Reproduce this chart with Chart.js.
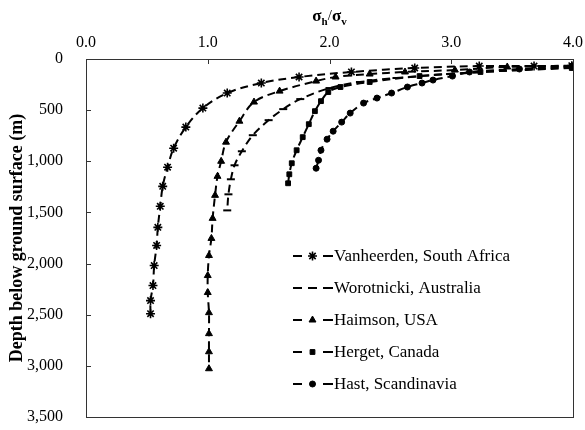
<!DOCTYPE html>
<html><head><meta charset="utf-8">
<script src="https://cdn.jsdelivr.net/npm/chart.js@4/dist/chart.umd.min.js"></script>
<style>html,body{margin:0;padding:0;background:#fff}#wrap{width:585px;height:430px}</style>
</head><body><div id="wrap"><canvas id="c" width="585" height="430"></canvas></div>
<script>
// ---- data (σh/σv ratio vs depth in m) ----
const seriesNames = ["Vanheerden, South Africa", "Worotnicki, Australia", "Haimson, USA", "Herget, Canada", "Hast, Scandinavia"];
const xTickValues = [0, 1, 2, 3, 4];
const yTickValues = [0, 500, 1000, 1500, 2000, 2500, 3000, 3500];

const vanheerdenRatio = [3.99, 3.68, 3.23, 2.70, 2.18, 1.75, 1.44, 1.16, 0.96, 0.82, 0.72, 0.67, 0.63, 0.61, 0.59, 0.58, 0.56, 0.55, 0.53, 0.53];
const vanheerdenDepth = [65, 69, 69, 88, 127, 176, 235, 333, 480, 666, 872, 1058, 1245, 1440, 1646, 1823, 2019, 2215, 2362, 2490];

const worotnickiRatio = [3.99, 2.99, 2.55, 2.25, 2.00, 1.76, 1.62, 1.50, 1.37, 1.28, 1.22, 1.19, 1.17, 1.16];
const worotnickiDepth = [78, 147, 186, 225, 284, 392, 490, 598, 745, 902, 1039, 1176, 1323, 1480];

const haimsonRatio = [3.99, 3.46, 3.03, 2.62, 2.33, 2.05, 1.89, 1.59, 1.38, 1.26, 1.15, 1.11, 1.08, 1.06, 1.04, 1.03, 1.01, 1.00, 1.00, 1.01, 1.01, 1.01, 1.01];
const haimsonDepth = [69, 78, 108, 127, 147, 176, 216, 314, 421, 608, 813, 1000, 1147, 1333, 1558, 1754, 1921, 2117, 2283, 2480, 2685, 2862, 3028];

const hergetRatio = [3.99, 3.24, 2.74, 2.33, 2.09, 1.99, 1.93, 1.88, 1.83, 1.78, 1.73, 1.69, 1.67, 1.66];
const hergetDepth = [88, 127, 167, 225, 274, 323, 412, 510, 637, 764, 892, 1019, 1127, 1215];

const hastRatio = [3.99, 3.56, 3.15, 3.01, 2.85, 2.76, 2.64, 2.51, 2.39, 2.28, 2.17, 2.10, 2.03, 1.98, 1.93, 1.91, 1.89];
const hastDepth = [69, 98, 127, 167, 206, 235, 274, 333, 382, 431, 529, 617, 706, 784, 892, 990, 1068];

const pairs = (xs, ys) => xs.map((v, i) => ({ x: v, y: ys[i] }));

const SERIF = '"Liberation Serif", "Times New Roman", serif';
const DASH = [8, 5];

const styles = [
  { pointStyle: 'star', radius: 4.5, borderWidth: 1.6 },
  { pointStyle: 'line', radius: 4, borderWidth: 2 },
  { pointStyle: 'triangle', radius: 4, borderWidth: 1 },
  { pointStyle: 'rect', radius: 3.4, borderWidth: 1 },
  { pointStyle: 'circle', radius: 3, borderWidth: 1 }
];
const dataSets = [
  pairs(vanheerdenRatio, vanheerdenDepth),
  pairs(worotnickiRatio, worotnickiDepth),
  pairs(haimsonRatio, haimsonDepth),
  pairs(hergetRatio, hergetDepth),
  pairs(hastRatio, hastDepth)
];

const datasets = dataSets.map((d, i) => ({
  label: seriesNames[i],
  data: d,
  showLine: true,
  borderColor: '#000',
  backgroundColor: '#000',
  borderWidth: 2,
  borderDash: DASH,
  tension: 0.35,
  pointStyle: styles[i].pointStyle,
  pointRadius: styles[i].radius,
  pointBorderWidth: styles[i].borderWidth,
  pointBackgroundColor: '#000',
  pointBorderColor: '#000'
}));

const zeroPad = s => { s.paddingLeft = 0; s.paddingRight = 0; s.paddingTop = 0; s.paddingBottom = 0; };

const extras = {
  id: 'extras',
  afterDraw(chart) {
    const ctx = chart.ctx;
    const a = chart.chartArea;
    const xs = chart.scales.x, ys = chart.scales.y;
    ctx.save();
    ctx.setLineDash([]);
    // plot frame
    ctx.strokeStyle = '#333';
    ctx.lineWidth = 1;
    ctx.strokeRect(Math.round(a.left) + 0.5, Math.round(a.top) + 0.5, Math.round(a.right - a.left), Math.round(a.bottom - a.top));
    // inward tick marks
    ctx.beginPath();
    xTickValues.forEach(v => {
      const px = Math.round(xs.getPixelForValue(v)) + 0.5;
      ctx.moveTo(px, a.top); ctx.lineTo(px, a.top + 5);
    });
    yTickValues.forEach(v => {
      const py = Math.round(ys.getPixelForValue(v)) + 0.5;
      ctx.moveTo(a.left, py); ctx.lineTo(a.left + 5, py);
    });
    ctx.stroke();

    // title σh/σv with subscripts
    const big = 'bold 17px ' + SERIF, small = 'bold 11px ' + SERIF;
    const parts = [['σ', big, 0], ['h', small, 4], ['/', '15px ' + SERIF, -1], ['σ', big, 0], ['v', small, 4]];
    let total = 0;
    parts.forEach(p => { ctx.font = p[1]; total += ctx.measureText(p[0]).width; });
    let tx = (a.left + a.right) / 2 - total / 2;
    ctx.fillStyle = '#000';
    ctx.textBaseline = 'alphabetic';
    ctx.textAlign = 'left';
    parts.forEach(p => { ctx.font = p[1]; ctx.fillText(p[0], tx, 21 + p[2]); tx += ctx.measureText(p[0]).width; });

    // legend
    const lx0 = 293, ly0 = 256, lstep = 32;
    seriesNames.forEach((name, i) => {
      const y = ly0 + i * lstep;
      ctx.strokeStyle = '#000';
      ctx.lineWidth = 2;
      ctx.setLineDash([]);
      ctx.beginPath();
      if (i === 1) {
        ctx.moveTo(lx0, y); ctx.lineTo(lx0 + 9, y);
        ctx.moveTo(lx0 + 15, y); ctx.lineTo(lx0 + 24, y);
        ctx.moveTo(lx0 + 30, y); ctx.lineTo(lx0 + 40, y);
      } else {
        ctx.moveTo(lx0, y); ctx.lineTo(lx0 + 9, y);
        ctx.moveTo(lx0 + 30, y); ctx.lineTo(lx0 + 40, y);
      }
      ctx.stroke();
      if (i !== 1) {
        ctx.fillStyle = '#000';
        ctx.lineWidth = styles[i].borderWidth;
        Chart.helpers.drawPoint(ctx, { pointStyle: styles[i].pointStyle, radius: styles[i].radius, rotation: 0, borderWidth: styles[i].borderWidth }, lx0 + 19.5, y);
      }
      ctx.fillStyle = '#000';
      ctx.font = '17px ' + SERIF;
      ctx.textBaseline = 'middle';
      ctx.fillText(name, lx0 + 41, y + 1);
    });
    ctx.restore();
  }
};

new Chart(document.getElementById('c'), {
  type: 'scatter',
  data: { datasets },
  options: {
    responsive: false,
    animation: false,
    devicePixelRatio: 1,
    layout: { padding: { left: 0, right: 12, top: 0, bottom: 13 } },
    plugins: { legend: { display: false }, title: { display: false }, tooltip: { enabled: false } },
    scales: {
      x: {
        type: 'linear', position: 'top', min: 0, max: 4,
        afterFit: s => { s.height = 59; zeroPad(s); },
        afterBuildTicks: s => { s.ticks = xTickValues.map(v => ({ value: v })); },
        ticks: { callback: v => Number(v).toFixed(1), font: { family: SERIF, size: 16 }, color: '#000', padding: 7 },
        grid: { display: false, drawTicks: false },
        border: { display: false }
      },
      y: {
        type: 'linear', reverse: true, min: 0, max: 3500,
        afterFit: s => { s.width = 86; zeroPad(s); },
        afterBuildTicks: s => { s.ticks = yTickValues.map(v => ({ value: v })); },
        ticks: { callback: v => Number(v).toLocaleString('en-US'), font: { family: SERIF, size: 16 }, color: '#000', padding: 23 },
        grid: { display: false, drawTicks: false },
        border: { display: false },
        title: { display: true, text: 'Depth below ground surface (m)', font: { family: SERIF, size: 18, weight: 'bold' }, color: '#000', padding: { top: 7, bottom: 0 } }
      }
    }
  },
  plugins: [extras]
});
</script>
</body></html>
